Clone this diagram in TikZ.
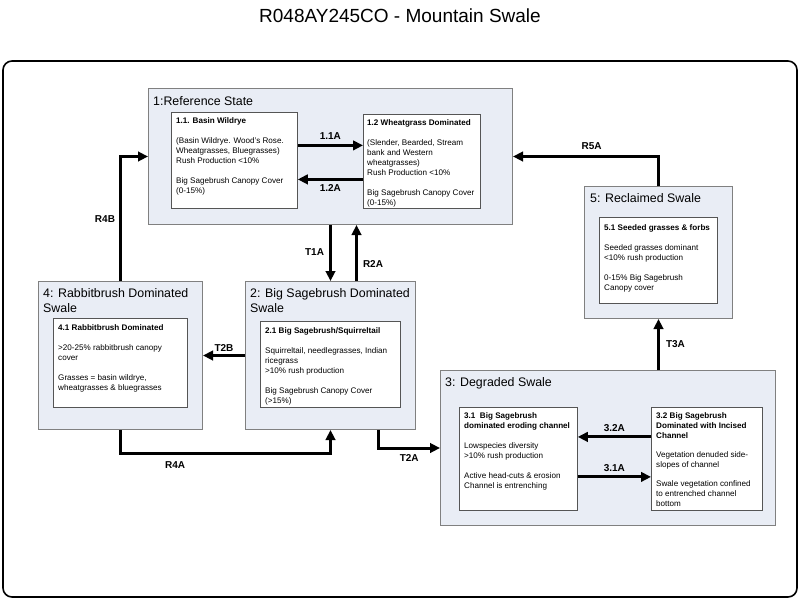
\documentclass[tikz,border=0pt]{standalone}
\usepackage{fontspec}
\setmainfont{Liberation Sans}
\usetikzlibrary{arrows.meta}
\definecolor{statefill}{RGB}{233,237,245}
\definecolor{stateline}{RGB}{128,128,128}
\definecolor{boxline}{RGB}{85,85,85}
\tikzset{
  state/.style={draw=stateline, fill=statefill, line width=1pt, anchor=north west, inner sep=0pt},
  inbox/.style={draw=boxline, fill=white, line width=0.8pt, anchor=north west, inner sep=0pt},
  stitle/.style={anchor=north west, inner sep=0pt, align=left, font=\fontsize{12.4}{15.5}\selectfont},
  btext/.style={anchor=north west, inner sep=0pt, align=left, font=\fontsize{8.1}{10}\selectfont},
  trans/.style={line width=3pt, -{Triangle[length=10pt,width=9.5pt]}},
  lbl/.style={font=\bfseries\fontsize{10}{12}\selectfont, inner sep=2pt}
}
\begin{document}
\begin{tikzpicture}[x=1pt, y=-1pt]
\useasboundingbox (0,0) rectangle (800,600);
\node (title) at (400,16) {\fontsize{19}{22}\selectfont R048AY245CO - Mountain Swale};
\draw[line width=1.6pt, rounded corners=9pt] (3,61) rectangle (797,597);
% states
\node[state, minimum width=364, minimum height=136] (s1) at (148,88) {};
\node[state, minimum width=170, minimum height=148] (s2) at (245,281) {};
\node[state, minimum width=335, minimum height=155] (s3) at (440,370) {};
\node[state, minimum width=164, minimum height=148] (s4) at (38,281) {};
\node[state, minimum width=148, minimum height=132] (s5) at (584,186) {};
\node[stitle] (s1t) at ([xshift=5pt,yshift=-8pt]s1.north west) {1:Reference State};
\node[stitle] (s2t) at ([xshift=5pt,yshift=-7pt]s2.north west) {2: Big Sagebrush Dominated\\Swale};
\node[stitle] (s3t) at ([xshift=5pt,yshift=-7pt]s3.north west) {3: Degraded Swale};
\node[stitle] (s4t) at ([xshift=5pt,yshift=-7pt]s4.north west) {4: Rabbitbrush Dominated\\Swale};
\node[stitle] (s5t) at ([xshift=6pt,yshift=-7pt]s5.north west) {5: Reclaimed Swale};
% communities
\node[inbox, minimum width=126, minimum height=96] (b11) at (171,112) {};
\node[btext] (b11t) at ([xshift=5pt,yshift=-5pt]b11.north west) {\textbf{1.1. Basin Wildrye}\\[10pt]
(Basin Wildrye. Wood's Rose.\\Wheatgrasses, Bluegrasses)\\Rush Production <10\%\\[10pt]
Big Sagebrush Canopy Cover\\(0-15\%)};
\node[inbox, minimum width=117, minimum height=94] (b12) at (363,114) {};
\node[btext] (b12t) at ([xshift=4pt,yshift=-5pt]b12.north west) {\textbf{1.2 Wheatgrass Dominated}\\[10pt]
(Slender, Bearded, Stream\\bank and Western\\wheatgrasses)\\Rush Production <10\%\\[10pt]
Big Sagebrush Canopy Cover\\(0-15\%)};
\node[inbox, minimum width=140, minimum height=86] (b21) at (260,321) {};
\node[btext] (b21t) at ([xshift=5pt,yshift=-6pt]b21.north west) {\textbf{2.1 Big Sagebrush/Squirreltail}\\[10pt]
Squirreltail, needlegrasses, Indian\\ricegrass\\>10\% rush production\\[10pt]
Big Sagebrush Canopy Cover\\(>15\%)};
\node[inbox, minimum width=134, minimum height=89] (b41) at (53,318) {};
\node[btext] (b41t) at ([xshift=5pt,yshift=-6pt]b41.north west) {\textbf{4.1 Rabbitbrush Dominated}\\[10pt]
>20-25\% rabbitbrush canopy\\cover\\[10pt]
Grasses = basin wildrye,\\wheatgrasses \& bluegrasses};
\node[inbox, minimum width=118, minimum height=103] (b31) at (459,407) {};
\node[btext] (b31t) at ([xshift=5pt,yshift=-5pt]b31.north west) {\textbf{3.1\ \ Big Sagebrush}\\\textbf{dominated eroding channel}\\[10pt]
Lowspecies diversity\\>10\% rush production\\[10pt]
Active head-cuts \& erosion\\Channel is entrenching};
\node[inbox, minimum width=111, minimum height=103] (b32) at (651,407) {};
\node[btext] (b32t) at ([xshift=5pt,yshift=-5pt]b32.north west) {\textbf{3.2 Big Sagebrush}\\\textbf{Dominated with Incised}\\\textbf{Channel}\\[9pt]
Vegetation denuded side-\\slopes of channel\\[9pt]
Swale vegetation confined\\to entrenched channel\\bottom};
\node[inbox, minimum width=118, minimum height=86] (b51) at (599,217) {};
\node[btext] (b51t) at ([xshift=5pt,yshift=-7pt]b51.north west) {\textbf{5.1 Seeded grasses \& forbs}\\[10pt]
Seeded grasses dominant\\<10\% rush production\\[10pt]
0-15\% Big Sagebrush\\Canopy cover};
% pathways inside states
\draw[trans] ([yshift=15pt]b11.east) -- ([yshift=15pt]b11.east -| b12.west) node[lbl, midway, above=2pt] {1.1A};
\draw[trans] ([yshift=-19pt]b11.east -| b12.west) -- ([yshift=-19pt]b11.east) node[lbl, midway, below=2pt] {1.2A};
\draw[trans] ([yshift=22pt]b31.east -| b32.west) -- ([yshift=22pt]b31.east) node[lbl, midway, above=2pt] {3.2A};
\draw[trans] ([yshift=-18pt]b31.east) -- ([yshift=-18pt]b31.east -| b32.west) node[lbl, midway, above=2pt] {3.1A};
% transitions
\draw[trans] (s1.south) -- (s1.south |- s2.north) node[lbl, midway, left=3pt, yshift=1pt] {T1A};
\draw[trans] ([xshift=26pt]s1.south |- s2.north) -- ([xshift=26pt]s1.south) node[lbl, pos=0.3, right=3pt] {R2A};
\draw[trans] (s2.west) -- (s4.east) node[lbl, midway, above=1pt] {T2B};
\draw[trans] ([xshift=48pt]s2.south) |- (s3.west) node[lbl, pos=0.75, below=3pt] {T2A};
\draw[trans] (s3.north -| s5.south) -- (s5.south) node[lbl, midway, right=4pt] {T3A};
\draw[trans] (s5.north) |- (s1.east) node[lbl, pos=0.73, above=3pt] {R5A};
\draw[trans] (s4.north) |- (s1.west) node[lbl, pos=0.25, left=2pt] {R4B};
\draw[trans] (s4.south) -- ++(0,23) -| (s2.south) node[lbl, pos=0.13, below=5pt] {R4A};
\end{tikzpicture}
\end{document}
